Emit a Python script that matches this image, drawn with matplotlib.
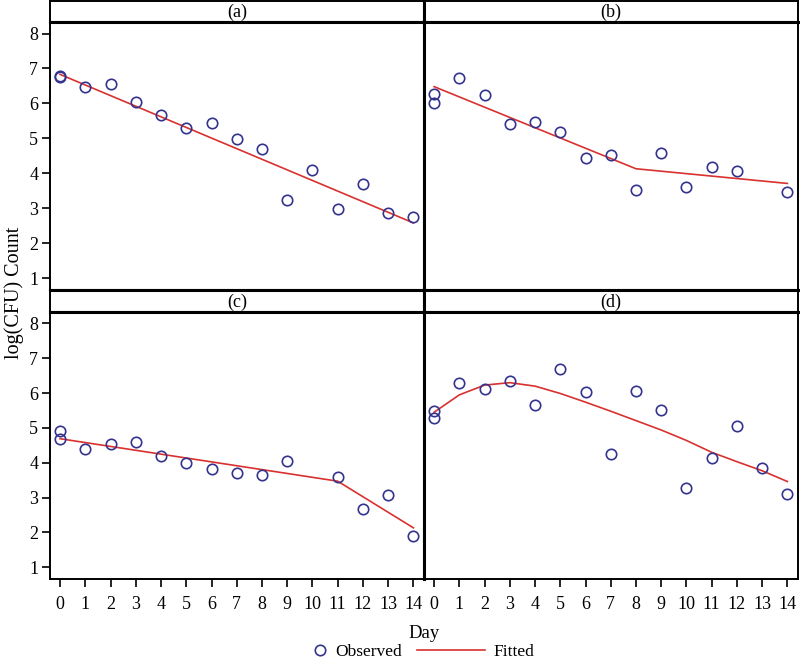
"""
Observed vs fitted log(CFU) counts over 14 days, four panels (a)-(d).
"""
import matplotlib
matplotlib.use("Agg")
import matplotlib.pyplot as plt
from matplotlib.lines import Line2D

plt.rcParams['font.family'] = ['Liberation Serif', 'DejaVu Serif']

# Data
panel_labels = ["(a)", "(b)", "(c)", "(d)"]
day_ticks = list(range(15))
y_ticks = [1, 2, 3, 4, 5, 6, 7, 8]

obs_days_a = [0, 0, 1, 2, 3, 4, 5, 6, 7, 8, 9, 10, 11, 12, 13, 14]
obs_a = [6.79, 6.76, 6.46, 6.56, 6.04, 5.68, 5.31, 5.45, 4.97, 4.70, 3.23, 4.10, 2.98, 3.69, 2.87, 2.76]
fit_days_a = [0, 14]
fit_a = [6.83, 2.58]

obs_days_b = [0, 0, 1, 2, 3, 4, 5, 6, 7, 8, 9, 10, 11, 12, 14]
obs_b = [6.27, 6.02, 6.74, 6.25, 5.41, 5.48, 5.17, 4.43, 4.51, 3.53, 4.59, 3.61, 4.17, 4.06, 3.46]
fit_days_b = [0, 8, 14]
fit_b = [6.48, 4.13, 3.71]

obs_days_c = [0, 0, 1, 2, 3, 4, 5, 6, 7, 8, 9, 11, 12, 13, 14]
obs_c = [4.92, 4.67, 4.39, 4.53, 4.59, 4.19, 4.00, 3.81, 3.71, 3.64, 4.06, 3.60, 2.66, 3.06, 1.89]
fit_days_c = [0, 11, 14]
fit_c = [4.69, 3.47, 2.13]

obs_days_d = [0, 0, 1, 2, 3, 4, 5, 6, 7, 8, 9, 10, 11, 12, 13, 14]
obs_d = [5.48, 5.28, 6.28, 6.13, 6.34, 5.65, 6.69, 6.04, 4.25, 6.06, 5.51, 3.26, 4.15, 5.05, 3.86, 3.11]
fit_days_d = list(range(15))
fit_d = [5.45, 5.95, 6.23, 6.30, 6.20, 5.99, 5.74, 5.48, 5.21, 4.94, 4.64, 4.30, 4.03, 3.77, 3.46]

obs_days = [obs_days_a, obs_days_b, obs_days_c, obs_days_d]
obs_vals = [obs_a, obs_b, obs_c, obs_d]
fit_days = [fit_days_a, fit_days_b, fit_days_c, fit_days_d]
fit_vals = [fit_a, fit_b, fit_c, fit_d]

# Styles
W, H = 800, 661
MARKER_COLOR = "#34348f"
LINE_COLOR = "#d8312f"
FS = 13
THICK = 2.2
THIN = 1.4


def rect(x0, y0, x1, y1):
    """ Pixel box (top-left origin) to figure fractions. """
    return [x0 / W, 1 - y1 / H, (x1 - x0) / W, (y1 - y0) / H]


fig = plt.figure(figsize=(W / 100, H / 100), dpi=100)

col_x = [(50, 424), (424, 798)]
row_strip = [(1, 22), (290, 312)]
row_panel = [(22, 290), (312, 579)]

for i in range(4):
    r, c = divmod(i, 2)
    x0, x1 = col_x[c]

    # Header strip
    s = fig.add_axes(rect(x0, row_strip[r][0], x1, row_strip[r][1]))
    s.set_xticks([])
    s.set_yticks([])
    for sp in s.spines.values():
        sp.set_linewidth(THICK)
    if r == 0:
        s.spines['top'].set_linewidth(THIN)
    if c == 0:
        s.spines['left'].set_linewidth(THIN)
    else:
        s.spines['right'].set_linewidth(THIN)
    s.text(0.5, 0.45, panel_labels[i], transform=s.transAxes,
           ha='center', va='center', fontsize=FS)

    # Data panel
    ax = fig.add_axes(rect(x0, row_panel[r][0], x1, row_panel[r][1]))
    ax.plot(fit_days[i], fit_vals[i], color=LINE_COLOR, lw=1.2, zorder=2)
    ax.plot(obs_days[i], obs_vals[i], 'o', mfc='none', mec=MARKER_COLOR,
            ms=7.5, mew=1.2, zorder=3)
    ax.set_xlim(-0.4, 14.42)
    ax.set_ylim(0.66, 8.33)

    for sp in ax.spines.values():
        sp.set_linewidth(THICK)
    if c == 0:
        ax.spines['left'].set_linewidth(THIN)
        ax.set_yticks(y_ticks)
        ax.tick_params(axis='y', length=5.5, width=1.2, pad=3, labelsize=FS)
    else:
        ax.spines['right'].set_linewidth(THIN)
        ax.set_yticks([])
    if r == 1:
        ax.spines['bottom'].set_linewidth(THIN)
        ax.set_xticks(day_ticks)
        ax.tick_params(axis='x', length=5.5, width=1.2, pad=7, labelsize=FS)
    else:
        ax.set_xticks([])

# Axis titles
fig.text(14 / W, 1 - 293 / H, "log(CFU) Count", rotation=90,
         ha='center', va='center', fontsize=14.5)
fig.text(424 / W, 1 - 634 / H, "Day", ha='center', va='center', fontsize=FS + 0.5)

# Legend: two pieces so the marker and line keys get different widths
obs_handle = Line2D([], [], ls='none', marker='o', mfc='none', mec=MARKER_COLOR,
                    ms=7.5, mew=1.2)
fit_handle = Line2D([], [], color=LINE_COLOR, lw=1.2)
fig.legend([obs_handle], ["Observed"], loc='center left',
           bbox_to_anchor=(311 / W, 1 - 652 / H), frameon=False,
           borderpad=0, borderaxespad=0, handlelength=1.0,
           handletextpad=0.4, fontsize=12.5)
fig.legend([fit_handle], ["Fitted"], loc='center left',
           bbox_to_anchor=(417 / W, 1 - 652 / H), frameon=False,
           borderpad=0, borderaxespad=0, handlelength=3.9,
           handletextpad=0.5, fontsize=12.5)

fig.savefig("out.png", dpi=100)
